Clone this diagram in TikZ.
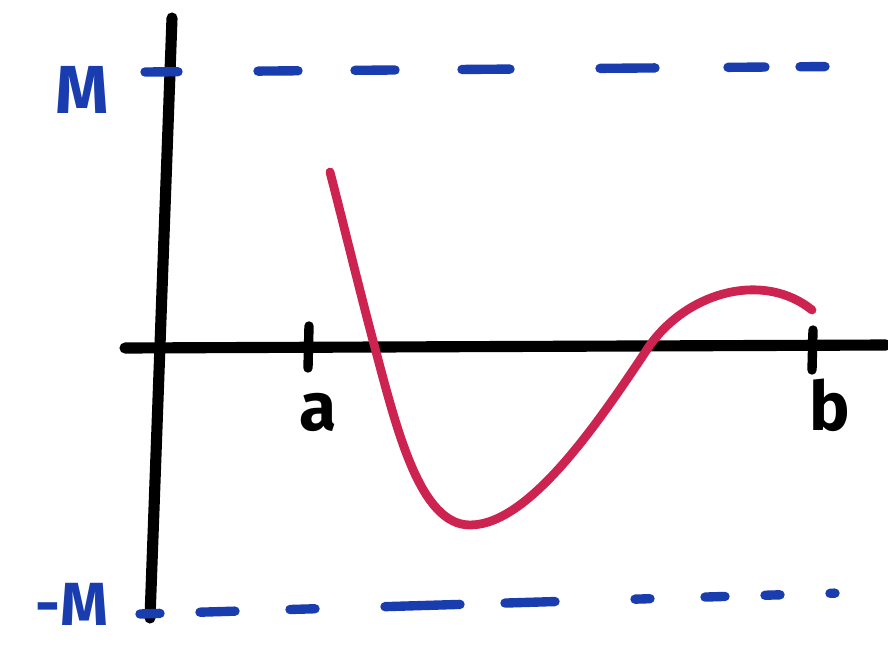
\documentclass[tikz,border=0pt]{standalone}
\usepackage{fontspec}
\setmainfont{Fira Sans}
\begin{document}
\begin{tikzpicture}[x=0.03cm,y=-0.03cm,
  axis/.style={line width=9.5pt,black,line cap=round},
  dashseg/.style={line width=8pt,draw=bluepen,line cap=round},
  curve/.style={line width=7.5pt,draw=redpen,line cap=round},
  lbl/.style={font=\fontsize{58}{60}\selectfont\bfseries,inner sep=0pt}]
\definecolor{bluepen}{RGB}{25,60,175}
\definecolor{redpen}{RGB}{205,35,80}
\useasboundingbox (0,0) rectangle (888,645);
% axes
\coordinate (ytop) at (172,18);
\coordinate (ybot) at (150,618);
\coordinate (xl) at (125,348);
\coordinate (xr) at (886,345);
\draw[axis] (ybot) -- (ytop);
\draw[axis] (xl) -- (xr);
% ticks
\coordinate (at1) at (309,326);
\coordinate (at2) at (308,368);
\coordinate (bt1) at (813,330);
\coordinate (bt2) at (812,370);
\draw[axis,line width=8pt] (at1) -- (at2);
\draw[axis,line width=8pt] (bt1) -- (bt2);
\node[lbl] (a) at (318,412) {a};
\node[lbl] (b) at (830,405) {b};
% bounds
\node[lbl,text=bluepen] (M) at (82,90) {M};
\node[lbl,text=bluepen,font=\fontsize{52}{54}\selectfont\bfseries] (mM) at (72,604) {-M};
\foreach \s/\e in {145/178,258/298,355/395,462/510,600/655,728/765,800/825}{
  \draw[dashseg] (\s,{72-(\s-145)*0.008}) -- (\e,{72-(\e-145)*0.008});
}
\foreach \s/\e in {140/160,200/235,290/315,385/460,505/555,635/650,705/725,765/780,830/835}{
  \draw[dashseg] (\s,{614-(\s-140)*0.03}) -- (\e,{614-(\e-140)*0.03});
}
% function
\coordinate (fs) at (330,172);
\coordinate (fe) at (812,310);
\draw[curve] (fs) .. controls (345,230) and (362,300) .. (375,348)
  .. controls (397,430) and (420,525) .. (470,525)
  .. controls (530,525) and (600,420) .. (650,345)
  .. controls (690,290) and (765,272) .. (fe);
\end{tikzpicture}
\end{document}
